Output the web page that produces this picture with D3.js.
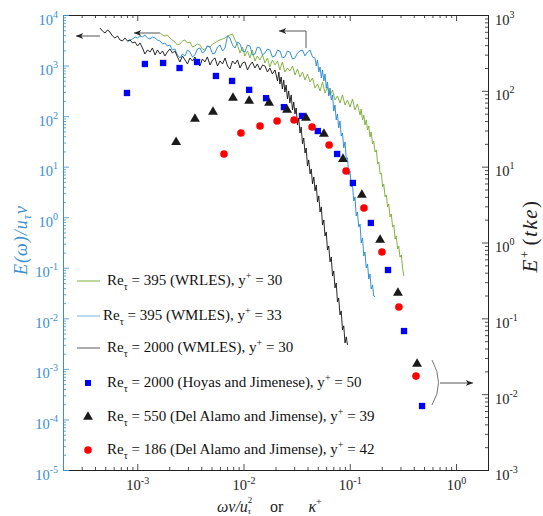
<!DOCTYPE html>
<html>
<head>
<meta charset="utf-8">
<script src="https://cdn.jsdelivr.net/npm/d3@7"></script>
<style>
  body { margin: 0; background: #fff; }
</style>
</head>
<body>
<svg id="chart" width="543" height="516"></svg>
<script>
// ---- Tick exponents -------------------------------------------------------
const xTickExps = [-3, -2, -1, 0];
const leftTickExps = [-5, -4, -3, -2, -1, 0, 1, 2, 3, 4];
const rightTickExps = [-3, -2, -1, 0, 1, 2, 3];

// ---- Spectra (left axis: E(omega)/u_tau nu  vs  omega nu / u_tau^2) -------
const freqWRLES395 = [
  1.64e-3, 1.73e-3, 1.82e-3, 1.92e-3, 2.03e-3, 2.14e-3, 2.26e-3, 2.39e-3, 2.52e-3, 2.66e-3,
  2.81e-3, 2.97e-3, 3.13e-3, 3.31e-3, 3.49e-3, 3.68e-3, 3.89e-3, 4.10e-3, 4.33e-3, 4.57e-3,
  4.84e-3, 5.11e-3, 5.39e-3, 5.69e-3, 6.01e-3, 6.35e-3, 6.70e-3, 7.07e-3, 7.46e-3, 7.88e-3,
  8.32e-3, 8.78e-3,
  9.27e-3, 9.78e-3, 0.0103, 0.0109, 0.0115, 0.0121, 0.0128, 0.0135, 0.0143, 0.0151,
  0.0159, 0.0168, 0.0177, 0.0187, 0.0198, 0.0209, 0.0220, 0.0232, 0.0245, 0.0259,
  0.0273, 0.0289, 0.0305, 0.0322, 0.0340, 0.0359, 0.0379, 0.0400, 0.0423, 0.0446,
  0.0471, 0.0497, 0.0525, 0.0554, 0.0585, 0.0617, 0.0652, 0.0688, 0.0726, 0.0766,
  0.0809, 0.0854, 0.0902, 0.0952, 0.1005, 0.1061, 0.112, 0.118, 0.125,
  0.128, 0.132, 0.1355, 0.139, 0.143, 0.147, 0.151, 0.155, 0.159, 0.164,
  0.168, 0.173, 0.178, 0.183, 0.188, 0.193, 0.198, 0.204, 0.209, 0.215,
  0.221, 0.227, 0.233, 0.239, 0.246, 0.253, 0.260, 0.267, 0.274, 0.282,
  0.289, 0.297, 0.306, 0.314, 0.323];
const specWRLES395 = [
  4405, 4020, 3841, 4020, 3507, 3205, 2925, 2550, 2670, 3060,
  3205, 2795, 2925, 2328, 2437, 2670, 2550, 2126, 2030, 2437,
  2328, 2670, 2795, 3060, 3205, 3351, 3507, 3841, 4020, 4209,
  3205, 2550,
  1771, 2328, 1548, 1940, 1413, 2030, 1232, 1548, 1290, 1620,
  1125, 1413, 937, 1290, 1026, 1232, 817, 1178, 746, 895,
  781, 981, 650, 855, 594, 746, 518, 681, 473, 567,
  360, 432, 314, 473, 287, 377, 262, 329, 208, 250,
  182, 262, 166, 208, 152, 218, 132, 174, 105,
  138, 83.8, 105, 66.8, 83.8, 53.1, 63.9, 38.6, 48.5, 28.2,
  32.2, 19.5, 21.4, 11.3, 12.4, 7.18, 7.51, 3.97, 4.55, 2.52,
  2.76, 1.60, 1.83, 1.01, 1.16, 0.639, 0.70, 0.371, 0.427, 0.236,
  0.270, 0.163, 0.179, 0.0994, 0.0688];

const freqWMLES395 = [
  8.09e-4, 8.55e-4, 9.02e-4, 9.53e-4, 1.006e-3, 1.06e-3, 1.12e-3, 1.18e-3, 1.25e-3, 1.32e-3,
  1.39e-3, 1.47e-3, 1.55e-3, 1.64e-3, 1.73e-3, 1.82e-3, 1.92e-3, 2.03e-3, 2.14e-3, 2.26e-3,
  2.39e-3, 2.52e-3, 2.66e-3, 2.81e-3, 2.97e-3, 3.13e-3, 3.31e-3, 3.49e-3, 3.68e-3, 3.89e-3,
  4.10e-3, 4.33e-3, 4.57e-3, 4.84e-3, 5.11e-3, 5.39e-3, 5.69e-3, 6.01e-3, 6.35e-3, 6.70e-3,
  7.07e-3, 7.46e-3, 7.88e-3, 8.32e-3, 8.78e-3, 9.27e-3, 9.78e-3, 0.0103, 0.0109, 0.0115,
  0.0121, 0.0128, 0.0135, 0.0143, 0.0151, 0.0159, 0.0168, 0.0177, 0.0187, 0.0198,
  0.0209, 0.0220, 0.0232, 0.0245, 0.0259, 0.0273, 0.0289, 0.0305, 0.0322, 0.0340,
  0.0359, 0.0379, 0.0400, 0.0423, 0.0446, 0.0471,
  0.0484, 0.0497, 0.0511, 0.0525, 0.0540, 0.0554, 0.0570, 0.0585, 0.0601, 0.0617,
  0.0634, 0.0652, 0.0670, 0.0688, 0.0707, 0.0726, 0.0746, 0.0766, 0.0787, 0.0809,
  0.0831, 0.0854, 0.0878, 0.0902, 0.0927, 0.0952, 0.0978, 0.1005, 0.1033, 0.1061,
  0.109, 0.112, 0.115, 0.118, 0.1215, 0.125, 0.128, 0.132, 0.1355, 0.139,
  0.143, 0.147, 0.151, 0.155, 0.159, 0.164, 0.168, 0.173];
const specWMLES395 = [
  2925, 3205, 3351, 3670, 3507, 3841, 3670, 4020, 3507, 3351,
  3670, 3507, 3205, 3060, 2670, 2795, 2437, 2550, 2030, 2126,
  1620, 1413, 1692, 1548, 2030, 1853, 1479, 1620, 2126, 2225,
  1771, 1940, 2437, 2328, 1692, 1771, 2328, 2550, 1940, 2225,
  3841, 3507, 2550, 2225, 2925, 2670, 1940, 1853, 2550, 2437,
  1620, 1692, 2328, 2225, 1620, 1771, 2126, 2030, 1479, 1548,
  2030, 1940, 1413, 1479, 1940, 1853, 1350, 1413, 1771, 1940,
  2030, 1548, 1853, 2030, 1479, 1413,
  981, 1290, 746, 937, 567, 817, 495, 681, 360, 473,
  250, 360, 208, 262, 126, 166, 83.8, 110, 58.2, 80.1,
  40.4, 46.3, 23.4, 30.8, 14.2, 14.9, 6.86, 8.22, 3.97, 4.35,
  2.09, 2.52, 1.06, 1.27, 0.639, 0.733, 0.310, 0.389, 0.171, 0.205,
  0.0994, 0.119, 0.060, 0.0754, 0.038, 0.0457, 0.0277, 0.0265];

const freqWMLES2000 = [
  4.46e-4, 4.71e-4, 4.97e-4, 5.25e-4, 5.53e-4, 5.84e-4, 6.16e-4, 6.51e-4, 6.87e-4, 7.25e-4,
  7.67e-4,
  8.09e-4, 8.55e-4, 9.02e-4, 9.53e-4, 1.006e-3, 1.06e-3, 1.12e-3, 1.18e-3, 1.25e-3, 1.32e-3,
  1.39e-3, 1.47e-3, 1.55e-3, 1.64e-3, 1.73e-3, 1.82e-3, 1.92e-3, 2.03e-3, 2.14e-3, 2.26e-3,
  2.39e-3, 2.52e-3, 2.66e-3, 2.81e-3, 2.97e-3, 3.13e-3, 3.31e-3, 3.49e-3, 3.68e-3, 3.89e-3,
  4.10e-3, 4.33e-3, 4.57e-3, 4.84e-3, 5.11e-3, 5.39e-3, 5.69e-3, 6.01e-3, 6.35e-3, 6.70e-3,
  7.07e-3, 7.46e-3, 7.88e-3, 8.32e-3, 8.78e-3, 9.27e-3, 9.78e-3, 0.0103, 0.0109, 0.0115,
  0.0121, 0.0128, 0.0135, 0.0143, 0.0151, 0.0159, 0.0168, 0.0177, 0.0187, 0.0198,
  0.0209, 0.0215, 0.0220, 0.0226, 0.0232, 0.0239, 0.0245, 0.0252, 0.0259, 0.0266,
  0.0273, 0.0281, 0.0289, 0.0297, 0.0305, 0.0313, 0.0322, 0.0331, 0.0340, 0.0349,
  0.0359, 0.0369, 0.0379, 0.0389, 0.0400, 0.0411, 0.0423, 0.0434, 0.0446, 0.0459,
  0.0471, 0.0484, 0.0497, 0.0511, 0.0525, 0.0540, 0.0554, 0.0570, 0.0585, 0.0601,
  0.0617, 0.0634, 0.0652, 0.0670, 0.0688, 0.0707, 0.0726, 0.0746, 0.0766, 0.0787,
  0.0809, 0.0831, 0.0854, 0.0878, 0.0902, 0.0927, 0.0952];
const specWMLES2000 = [
  5530, 4825, 4405, 5050, 4611, 3841, 3507, 3841, 3205, 3060,
  3507,
  3060, 3205, 2795, 2925, 2437, 2795, 2225, 1692, 2030, 1853,
  2225, 1620, 2030, 1692, 1940, 1548, 1853, 2126, 1771, 1940,
  1479, 1178, 1548, 1290, 1075, 1413, 1232, 1479, 1125, 981,
  1350, 1178, 1479, 1026, 1290, 1413, 981, 1232, 1075, 1413,
  981, 855, 1232, 1075, 1290, 895, 1125, 1178, 817, 1026,
  1178, 895, 1075, 817, 1026, 981, 746, 895, 681, 817,
  495, 746, 432, 594, 344, 518, 300, 413, 218, 314,
  182, 262, 132, 190, 110, 145, 66.8, 91.8, 46.3, 61.0,
  28.2, 36.9, 18.6, 23.4, 10.3, 13.6, 7.18, 9.0, 4.55, 6.26,
  3.31, 4.35, 2.0, 2.64, 1.27, 1.60, 0.70, 0.88, 0.426, 0.511,
  0.225, 0.270, 0.131, 0.163, 0.0688, 0.0864, 0.040, 0.0501, 0.0211, 0.0253,
  0.0117, 0.0140, 0.0059, 0.0071, 0.00325, 0.0043, 0.00297];

// ---- DNS reference data (right axis: E+ (tke)  vs  kappa+) ----------------
const kHoyas2000 = [8.0e-4, 1.18e-3, 1.75e-3, 2.5e-3, 3.65e-3, 5.5e-3, 7.8e-3, 0.0113, 0.0163, 0.024,
  0.0355, 0.050, 0.076, 0.107, 0.158, 0.229, 0.324, 0.479];
const eHoyas2000 = [93.7, 226, 233, 200, 240, 157, 135, 103, 80, 61,
  46.6, 29.5, 14.7, 6.1, 1.81, 0.434, 0.068, 0.00698];

const kDelAlamo550 = [2.32e-3, 3.49e-3, 5.16e-3, 7.96e-3, 0.0113, 0.0174, 0.0257, 0.0387, 0.0571, 0.0863,
  0.130, 0.193, 0.284, 0.43];
const eDelAlamo550 = [21.1, 42.5, 52.6, 80.4, 73.4, 69.1, 55.9, 43.8, 27.0, 12.6,
  4.23, 1.08, 0.216, 0.025];

const kDelAlamo186 = [6.55e-3, 9.46e-3, 0.0143, 0.0207, 0.0299, 0.0442, 0.0639, 0.0923, 0.136, 0.201,
  0.290, 0.42];
const eDelAlamo186 = [14.7, 27.8, 34.4, 40.0, 41.2, 33.3, 19.3, 8.77, 2.85, 0.75,
  0.141, 0.0173];

// ---- Legend labels ---------------------------------------------------------
const legendRe = ["395", "395", "2000", "2000", "550", "186"];
const legendSource = ["WRLES", "WMLES", "WMLES", "Hoyas and Jimenese", "Del Alamo and Jimense", "Del Alamo and Jimense"];
const legendYplus = ["30", "33", "30", "50", "39", "42"];

// ---- Layout ----------------------------------------------------------------
const SERIF = "'Liberation Serif', 'Times New Roman', Times, serif";
const svg = d3.select("#chart").attr("font-family", SERIF);
const plot = { left: 63, right: 488, top: 15, bottom: 470 };
const leftColor = "#3b8fd0";
const axisColor = "#222";

const x = d3.scaleLog().domain([2e-4, 2]).range([plot.left, plot.right]);
const yL = d3.scaleLog().domain([1e-5, 1e4]).range([plot.bottom, plot.top]);
const yR = d3.scaleLog().domain([1e-3, 1e3]).range([plot.bottom, plot.top]);

// 2..9 multiples inside each decade of a log domain
function minorTicks(scale) {
  const [a, b] = scale.domain();
  const out = [];
  for (let e = Math.floor(Math.log10(a)); e <= Math.ceil(Math.log10(b)); e++) {
    for (let m = 2; m <= 9; m++) {
      const v = m * Math.pow(10, e);
      if (v >= a * 0.999 && v <= b * 1.001) out.push(v);
    }
  }
  return out;
}

// "10^n" labels with a raised exponent
function powerLabels(g, baseDy, supDy) {
  g.selectAll(".tick text").each(function (d) {
    const t = d3.select(this);
    const e = Math.round(Math.log10(d));
    t.text(null).attr("dy", baseDy + "px");
    t.append("tspan").text("10");
    t.append("tspan").attr("dy", -supDy).style("font-size", "10px").text(String(e));
  });
}

function styleAxis(g, color) {
  g.attr("font-family", SERIF).attr("font-size", null);
  g.selectAll("path.domain").attr("stroke", color).attr("stroke-width", 1);
  g.selectAll(".tick line").attr("stroke", color).attr("stroke-width", 0.8);
  g.selectAll(".tick text").attr("fill", color).style("font-size", "14.5px");
}

// bottom axis (ticks pointing into the plot)
const gBm = svg.append("g").attr("transform", `translate(0,${plot.bottom})`)
  .call(d3.axisBottom(x).tickValues(minorTicks(x)).tickSize(-3).tickFormat(""));
styleAxis(gBm, axisColor);
const gB = svg.append("g").attr("transform", `translate(0,${plot.bottom})`)
  .call(d3.axisBottom(x).tickValues(xTickExps.map(e => Math.pow(10, e))).tickSize(-6).tickPadding(0).tickFormat(d => d));
styleAxis(gB, axisColor);
gB.selectAll(".tick text").attr("y", 0);
powerLabels(gB, 20, 6);

// top axis
const gTm = svg.append("g").attr("transform", `translate(0,${plot.top})`)
  .call(d3.axisTop(x).tickValues(minorTicks(x)).tickSize(-3).tickFormat(""));
styleAxis(gTm, axisColor);
const gT = svg.append("g").attr("transform", `translate(0,${plot.top})`)
  .call(d3.axisTop(x).tickValues(xTickExps.map(e => Math.pow(10, e))).tickSize(-6).tickFormat(""));
styleAxis(gT, axisColor);

// right axis (E+ tke)
const gRm = svg.append("g").attr("transform", `translate(${plot.right},0)`)
  .call(d3.axisRight(yR).tickValues(minorTicks(yR)).tickSize(-3).tickFormat(""));
styleAxis(gRm, axisColor);
const gR = svg.append("g").attr("transform", `translate(${plot.right},0)`)
  .call(d3.axisRight(yR).tickValues(rightTickExps.map(e => Math.pow(10, e))).tickSize(-6).tickPadding(7).tickFormat(d => d));
styleAxis(gR, axisColor);
powerLabels(gR, 9, 7);

// left axis (spectra), drawn in blue
const gLm = svg.append("g").attr("transform", `translate(${plot.left},0)`)
  .call(d3.axisLeft(yL).tickValues(minorTicks(yL)).tickSize(-3).tickFormat(""));
styleAxis(gLm, leftColor);
const gL = svg.append("g").attr("transform", `translate(${plot.left},0)`)
  .call(d3.axisLeft(yL).tickValues(leftTickExps.map(e => Math.pow(10, e))).tickSize(-6).tickPadding(5).tickFormat(d => d));
styleAxis(gL, leftColor);
powerLabels(gL, 9, 7);

// ---- Spectra lines ---------------------------------------------------------
const lineL = d3.line().x(d => x(d[0])).y(d => yL(d[1]));
const series = [
  { f: freqWRLES395, e: specWRLES395, color: "#77ac30" },
  { f: freqWMLES395, e: specWMLES395, color: "#1f86d2" },
  { f: freqWMLES2000, e: specWMLES2000, color: "#111111" }
];
series.forEach(s => {
  svg.append("path")
    .datum(d3.zip(s.f, s.e))
    .attr("d", lineL)
    .attr("fill", "none")
    .attr("stroke", s.color)
    .attr("stroke-width", 0.9)
    .attr("stroke-linejoin", "round");
});

// ---- DNS markers -------------------------------------------------------------
svg.append("g").selectAll("path")
  .data(d3.zip(kHoyas2000, eHoyas2000)).join("path")
  .attr("transform", d => `translate(${x(d[0])},${yR(d[1])})`)
  .attr("d", d3.symbol(d3.symbolSquare, 40)())
  .attr("fill", "#0000ff");
svg.append("g").selectAll("path")
  .data(d3.zip(kDelAlamo550, eDelAlamo550)).join("path")
  .attr("transform", d => `translate(${x(d[0])},${yR(d[1])})`)
  .attr("d", d3.symbol(d3.symbolTriangle, 42)())
  .attr("fill", "#1a1a1a");
svg.append("g").selectAll("circle")
  .data(d3.zip(kDelAlamo186, eDelAlamo186)).join("circle")
  .attr("cx", d => x(d[0])).attr("cy", d => yR(d[1]))
  .attr("r", 3.8)
  .attr("fill", "#ff0000");

// ---- Annotation arrows -------------------------------------------------------
const defs = svg.append("defs");
defs.append("marker").attr("id", "head")
  .attr("viewBox", "-10 -5 12 10").attr("refX", 0).attr("refY", 0)
  .attr("markerWidth", 10).attr("markerHeight", 8).attr("markerUnits", "userSpaceOnUse")
  .attr("orient", "auto")
  .append("path").attr("d", "M0,0 L-9,-3.8 L-6.5,0 L-9,3.8 Z").attr("fill", "#222");

const arrowPaths = [
  "M100,36 L76,36",
  "M160,33 L134,33",
  "M306,48 L306,31 L279,31",
  "M440,383 L473,383"
];
arrowPaths.forEach(p => {
  svg.append("path").attr("d", p).attr("fill", "none")
    .attr("stroke", "#555").attr("stroke-width", 1)
    .attr("marker-end", "url(#head)");
});
// bracket grouping the high-wavenumber markers
svg.append("path").attr("d", "M432,360 Q445,383 432,405")
  .attr("fill", "none").attr("stroke", "#777").attr("stroke-width", 1);

// ---- Legend ------------------------------------------------------------------
const legend = svg.append("g").style("font-size", "15px");
const legendY = [285, 320, 352, 387, 421, 454];
const legendTextX = [107, 103, 107, 107, 107, 107];
const legendLineColors = ["#8fbf5a", "#8cc0ea", "#777777"];
legendRe.forEach((re, i) => {
  const y0 = legendY[i] - 4;
  if (i < 3) {
    legend.append("line").attr("x1", 77).attr("x2", 100).attr("y1", y0).attr("y2", y0)
      .attr("stroke", legendLineColors[i]).attr("stroke-width", 1.2);
  } else if (i === 3) {
    legend.append("path").attr("transform", `translate(88,${y0})`)
      .attr("d", d3.symbol(d3.symbolSquare, 36)()).attr("fill", "#0000ff");
  } else if (i === 4) {
    legend.append("path").attr("transform", `translate(88,${y0})`)
      .attr("d", d3.symbol(d3.symbolTriangle, 42)()).attr("fill", "#1a1a1a");
  } else {
    legend.append("circle").attr("cx", 88).attr("cy", y0).attr("r", 3.8).attr("fill", "#ff0000");
  }
  const t = legend.append("text").attr("x", legendTextX[i]).attr("y", legendY[i]).attr("fill", "#111");
  t.append("tspan").text("Re");
  t.append("tspan").attr("dy", 5).style("font-size", "10px").text("\u03C4");
  t.append("tspan").attr("dy", -5).text(` = ${re} (${legendSource[i]}), y`);
  t.append("tspan").attr("dy", -6).style("font-size", "10px").text("+");
  t.append("tspan").attr("dy", 6).text(` = ${legendYplus[i]}`);
});

// ---- Axis titles ---------------------------------------------------------------
// x title: omega nu / u_tau^2 with the exponent stacked above the subscript
const xt = svg.append("text").attr("x", 217).attr("y", 512).attr("fill", "#222").style("font-size", "16px");
xt.append("tspan").style("font-style", "italic").text("\u03C9\u03BD/u");
xt.append("tspan").attr("dy", -9).style("font-size", "9px").text("2");
xt.append("tspan").attr("dx", -4.5).attr("dy", 11).style("font-size", "9px").style("font-style", "italic").text("\u03C4");
xt.append("tspan").attr("dy", -2).attr("dx", 19).text("or");
xt.append("tspan").attr("dx", 25).style("font-style", "italic").text("\u03BA");
xt.append("tspan").attr("dy", -7).style("font-size", "10px").text("+");

const yt = svg.append("text").attr("transform", "translate(27,240) rotate(-90)")
  .attr("text-anchor", "middle").attr("fill", leftColor)
  .style("font-size", "18px").style("font-style", "italic").style("letter-spacing", "1px");
yt.append("tspan").text("E(\u03C9)/u");
yt.append("tspan").attr("dy", 4).style("font-size", "12px").text("\u03C4");
yt.append("tspan").attr("dy", -4).text("\u03BD");

const yr = svg.append("text").attr("transform", "translate(537,236) rotate(-90)")
  .attr("text-anchor", "middle").attr("fill", "#222")
  .style("font-size", "21px").style("letter-spacing", "1.5px");
yr.append("tspan").style("font-style", "italic").text("E");
yr.append("tspan").attr("dy", -8).style("font-size", "13px").text("+");
yr.append("tspan").attr("dy", 8).attr("dx", 4).text("(");
yr.append("tspan").style("font-style", "italic").text("tke");
yr.append("tspan").text(")");
</script>
</body>
</html>
